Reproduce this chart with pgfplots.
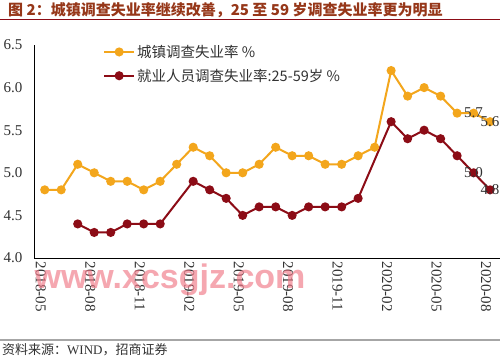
\documentclass[border=0pt]{standalone}
\usepackage{pgfplots}
\pgfplotsset{compat=1.18}
\usepackage{fontspec}
\setmainfont{Liberation Serif}
\setsansfont{Liberation Sans}
\newfontfamily\cjk{Noto Sans CJK SC}
\definecolor{orng}{RGB}{243,166,28}
\definecolor{dred}{RGB}{140,12,22}
\definecolor{ttl}{RGB}{150,55,25}
\definecolor{txt}{RGB}{50,50,50}
\definecolor{wm}{RGB}{240,120,135}
\begin{document}
\begin{tikzpicture}[x=1pt,y=1pt]
\useasboundingbox (0,0) rectangle (500,358);
\fill[white] (0,0) rectangle (500,358);
\node[anchor=west, text=ttl, font=\cjk\bfseries\fontsize{15}{15}\selectfont, inner sep=0] at (8,348) {图 2：城镇调查失业率继续改善，25 至 59 岁调查失业率更为明显};
\draw[dred, line width=1pt] (0,338.5) -- (500,338.5);
\begin{axis}[at={(34pt,100pt)}, anchor=south west, scale only axis,
  width=466pt, height=213pt,
  xmin=-0.65, xmax=27.6, ymin=4, ymax=6.5,
  axis lines=left, axis line style={-, black, line width=0.8pt},
  ytick={4,4.5,5,5.5,6,6.5},
  yticklabel style={/pgf/number format/fixed, /pgf/number format/fixed zerofill, /pgf/number format/precision=1, xshift=-8pt},
  xtick={0,3,...,27},
  xticklabels={2018-05,2018-08,2018-11,2019-02,2019-05,2019-08,2019-11,2020-02,2020-05,2020-08},
  xticklabel style={rotate=-90, anchor=west, yshift=-4pt},
  major tick length=0pt,
  tick label style={font=\fontsize{15}{15}\selectfont, text=txt},
  /pgf/number format/assume math mode=true,
  legend style={at={(0.148,1.01)}, anchor=north west, draw=none, fill=none,
    font=\cjk\fontsize{14.5}{15}\selectfont, text=txt, row sep=6pt, inner sep=0pt},
  legend cell align=left,
  legend image code/.code={\draw[mark repeat=2,mark phase=2,#1] plot coordinates {(0pt,0pt) (15pt,0pt) (30pt,0pt)};},
  clip=false,
]
\addplot[orng, line width=2pt, mark=*, mark size=3.5pt, mark options={solid, fill=orng, draw=orng}] coordinates {
(0,4.8) (1,4.8) (2,5.1) (3,5.0) (4,4.9) (5,4.9) (6,4.8) (7,4.9) (8,5.1) (9,5.3)
(10,5.2) (11,5.0) (12,5.0) (13,5.1) (14,5.3) (15,5.2) (16,5.2) (17,5.1) (18,5.1) (19,5.2)
(20,5.3) (21,6.2) (22,5.9) (23,6.0) (24,5.9) (25,5.7) (26,5.7) (27,5.6)};
\addlegendentry{城镇调查失业率 \%}
\addplot[dred, line width=2pt, mark=*, mark size=3.5pt, mark options={solid, fill=dred, draw=dred}] coordinates {
(2,4.4) (3,4.3) (4,4.3) (5,4.4) (6,4.4) (7,4.4) (9,4.9)
(10,4.8) (11,4.7) (12,4.5) (13,4.6) (14,4.6) (15,4.5) (16,4.6) (17,4.6) (18,4.6) (19,4.7)
(21,5.6) (22,5.4) (23,5.5) (24,5.4) (25,5.2) (26,5.0) (27,4.8)};
\addlegendentry{就业人员调查失业率:25-59岁 \%}
\addplot[forget plot, only marks, mark=none, nodes near coords, point meta=explicit symbolic,
  nodes near coords style={anchor=center, font=\fontsize{15}{15}\selectfont, text=txt}]
  coordinates {(26,5.7)[5.7] (27,5.6)[5.6] (26,5.0)[5.0] (27,4.8)[4.8]};
\end{axis}
\node[text=wm, opacity=0.65, font=\sffamily\bfseries\fontsize{34}{34}\selectfont, inner sep=0] at (170,78) {www.xcsgjz.com};
\draw[gray!70, line width=1.5pt] (0,18) -- (500,18);
\node[anchor=west, inner sep=0, text=txt, font=\fontsize{13}{13}\selectfont] at (2,8) {{\cjk 资料来源：}WIND{\cjk ，招商证券}};
\end{tikzpicture}
\end{document}
